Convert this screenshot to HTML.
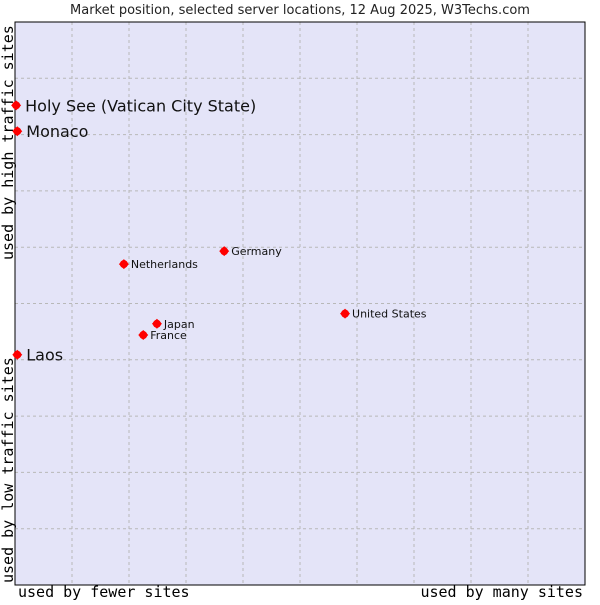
<!DOCTYPE html>
<html><head><meta charset="utf-8"><style>
body{margin:0;background:#fff;width:600px;height:600px;overflow:hidden}
text{font-family:"DejaVu Sans",sans-serif}
.mono{font-family:"DejaVu Sans Mono","Liberation Mono",monospace}
</style></head><body>
<svg id="c" width="600" height="600" xmlns="http://www.w3.org/2000/svg"></svg>
<script>
const names=["Holy See (Vatican City State)","Monaco","Laos","Netherlands","Germany","Japan","France","United States"];
const xVals=[0.2,0.4,0.4,19.1,36.7,24.9,22.5,57.9];
const yVals=[85.2,80.6,40.9,57.0,59.3,46.4,44.4,48.2];
const bigLabel=[true,true,true,false,false,false,false,false];
const L=15,R=585,T=22,B=585;
const sx=v=>L+v/100*(R-L), sy=v=>B-v/100*(B-T);
const s=document.getElementById('c');const NS="http://www.w3.org/2000/svg";
function mk(t,a,p){const e=document.createElementNS(NS,t);for(const k in a)e.setAttribute(k,a[k]);(p||s).appendChild(e);return e;}
const bg=mk('rect',{x:L,y:T,width:R-L,height:B-T,fill:'#e4e4f8',stroke:'none'});


for(let i=1;i<10;i++){const g=mk('line',{x1:sx(i*10),x2:sx(i*10),y1:T,y2:B,stroke:'#b8b8b8','stroke-dasharray':'3,3'});

}
for(let i=1;i<10;i++){const g=mk('line',{x1:L,x2:R,y1:sy(i*10),y2:sy(i*10),stroke:'#b8b8b8','stroke-dasharray':'3,3'});

}
const br=mk('rect',{x:L,y:T,width:R-L,height:B-T,fill:'none',stroke:'#000','stroke-width':1});


const ti=mk('text',{x:300,y:14,'font-size':13,'text-anchor':'middle',fill:'#222'});ti.textContent="Market position, selected server locations, 12 Aug 2025, W3Techs.com";


const xl=mk('text',{x:18,y:597,'font-size':15,class:'mono'});xl.textContent="used by fewer sites";


const xr=mk('text',{x:583,y:597,'font-size':15,'text-anchor':'end',class:'mono'});xr.textContent="used by many sites";


const yt=mk('text',{x:0,y:0,'font-size':15,class:'mono',transform:'translate(13,260) rotate(-90)'});yt.textContent="used by high traffic sites";


const yb=mk('text',{x:0,y:0,'font-size':15,class:'mono',transform:'translate(13,583) rotate(-90)'});yb.textContent="used by low traffic sites";


for(let i=0;i<names.length;i++){
 const x=sx(xVals[i]),y=sy(yVals[i]);
 const g=mk('g',{});
 
 
 mk('path',{d:`M${x} ${y-5}L${x+5} ${y}L${x} ${y+5}L${x-5} ${y}Z`,fill:'#f00'},g);
 mk('circle',{cx:x,cy:y,r:4,fill:'#f00'},g);
 const t=mk('text',{x:x+(bigLabel[i]?9:7),y:y+(bigLabel[i]?6:4),'font-size':bigLabel[i]?16:11,fill:'#111'},g);
 t.textContent=names[i];
}
</script>
</body></html>
